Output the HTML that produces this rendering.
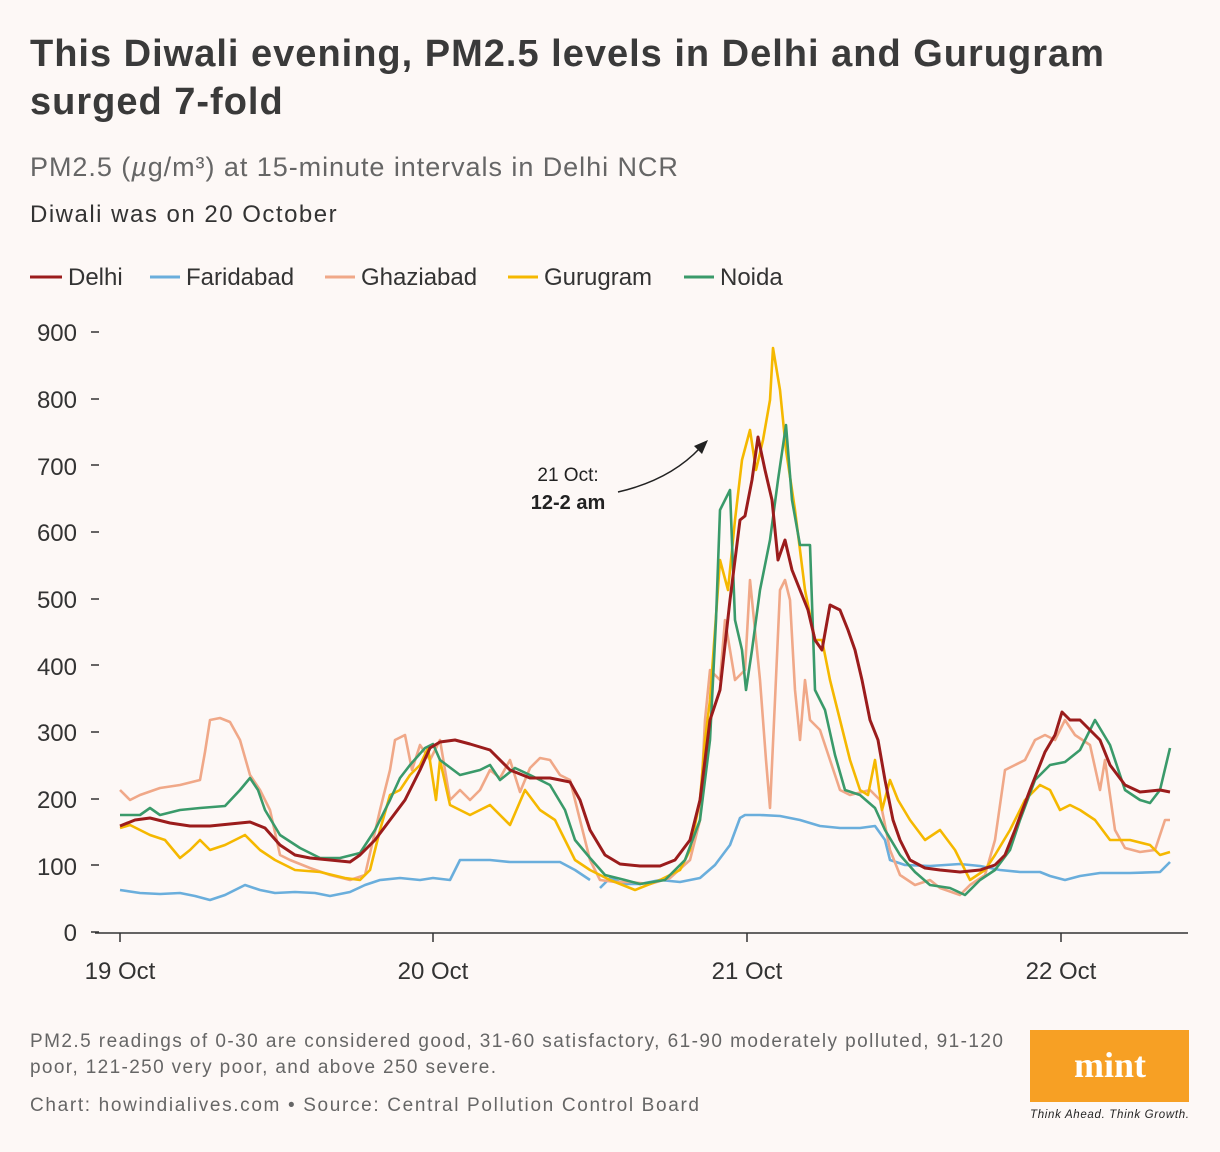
<!DOCTYPE html>
<html><head><meta charset="utf-8"><style>
body{margin:0;background:#fdf8f6;width:1220px;height:1152px;overflow:hidden;font-family:"Liberation Sans",sans-serif;color:#333;}
.t{position:absolute;left:30px;top:30px;font-size:38px;font-weight:bold;line-height:48px;color:#3a3a3a;letter-spacing:1px;}
</style></head><body>
<div class="t">This Diwali evening, PM2.5 levels in Delhi and Gurugram<br>surged 7-fold</div>
<div style="position:absolute;left:30px;top:152px;font-size:27px;color:#666;letter-spacing:0.95px;">PM2.5 (<i>µ</i>g/m³) at 15-minute intervals in Delhi NCR</div>
<div style="position:absolute;left:30px;top:201px;font-size:24px;color:#333;letter-spacing:1.5px;">Diwali was on 20 October</div>
<svg width="1220" height="1152" style="position:absolute;left:0;top:0" font-family="Liberation Sans, sans-serif">
<g font-size="24" fill="#333">
<line x1="30" y1="277" x2="62" y2="277" stroke="#9b1c1c" stroke-width="3"/><text x="68" y="285">Delhi</text>
<line x1="150" y1="277" x2="180" y2="277" stroke="#6aaedc" stroke-width="3"/><text x="186" y="285">Faridabad</text>
<line x1="325" y1="277" x2="355" y2="277" stroke="#f0a888" stroke-width="3"/><text x="361" y="285">Ghaziabad</text>
<line x1="508" y1="277" x2="538" y2="277" stroke="#f5b800" stroke-width="3"/><text x="544" y="285">Gurugram</text>
<line x1="684" y1="277" x2="714" y2="277" stroke="#3a9a6a" stroke-width="3"/><text x="720" y="285">Noida</text>
</g>
<g font-size="24" fill="#333" text-anchor="end">
<text x="77" y="341">900</text><text x="77" y="408">800</text><text x="77" y="475">700</text><text x="77" y="541">600</text><text x="77" y="608">500</text><text x="77" y="675">400</text><text x="77" y="741">300</text><text x="77" y="808">200</text><text x="77" y="875">100</text><text x="77" y="941">0</text>
</g>
<g stroke="#333" stroke-width="1.5">
<line x1="91" y1="332" x2="99" y2="332"/><line x1="91" y1="399" x2="99" y2="399"/><line x1="91" y1="465" x2="99" y2="465"/><line x1="91" y1="532" x2="99" y2="532"/><line x1="91" y1="599" x2="99" y2="599"/><line x1="91" y1="665" x2="99" y2="665"/><line x1="91" y1="732" x2="99" y2="732"/><line x1="91" y1="799" x2="99" y2="799"/><line x1="91" y1="865" x2="99" y2="865"/><line x1="91" y1="932" x2="99" y2="932"/>
<line x1="95" y1="933" x2="1188" y2="933"/>
<line x1="120" y1="933" x2="120" y2="942"/><line x1="433" y1="933" x2="433" y2="942"/><line x1="747" y1="933" x2="747" y2="942"/><line x1="1061" y1="933" x2="1061" y2="942"/>
</g>
<g font-size="24" fill="#333" text-anchor="middle">
<text x="120" y="979">19 Oct</text><text x="433" y="979">20 Oct</text><text x="747" y="979">21 Oct</text><text x="1061" y="979">22 Oct</text>
</g>
<g fill="none" stroke-width="2.6" stroke-linejoin="round">
<polyline stroke="#6aaedc" points="120,890 140,893 160,894 180,893 195,896 210,900 225,895 245,885 260,890 275,893 295,892 315,893 330,896 350,892 365,885 380,880 400,878 420,880 433,878 450,880 460,860 470,860 490,860 510,862 540,862 560,862 575,870 590,880"/>
<polyline stroke="#6aaedc" points="600,888 610,878 625,884 640,884 660,880 680,882 700,878 715,865 730,845 740,818 745,815 760,815 780,816 800,820 820,826 840,828 860,828 875,826 885,840 890,860 905,865 930,866 960,864 980,866 1000,870 1020,872 1040,872 1050,876 1065,880 1080,876 1100,873 1130,873 1160,872 1170,862"/>
<polyline stroke="#f0a888" points="120,790 130,800 140,795 160,788 180,785 200,780 205,752 210,720 220,718 230,722 240,740 250,775 260,790 270,810 280,855 290,860 310,868 330,875 350,880 365,875 380,810 390,770 395,740 405,735 412,770 420,745 430,760 440,740 450,800 460,790 470,800 480,790 490,770 500,778 510,760 520,792 530,768 540,758 550,760 560,775 570,780 580,820 590,860 600,880 615,882 630,882 650,884 670,878 690,860 700,820 705,720 710,670 720,680 725,620 735,680 745,670 750,580 760,680 766,760 770,808 775,700 780,590 785,580 790,600 795,690 800,740 805,680 810,720 820,730 830,760 840,790 850,795 870,790 880,800 890,850 900,875 915,885 930,880 940,888 960,895 970,885 985,875 995,840 1005,770 1015,765 1025,760 1035,740 1045,735 1055,740 1065,720 1075,735 1090,745 1100,790 1105,760 1115,830 1125,848 1140,852 1155,850 1165,820 1170,820"/>
<polyline stroke="#f5b800" points="120,828 130,825 150,835 165,840 180,858 190,850 200,840 210,850 225,845 235,840 245,835 260,850 275,860 295,870 320,872 345,878 360,880 370,870 380,830 390,795 400,790 410,775 420,765 428,748 436,800 440,760 450,805 470,815 490,805 510,825 525,790 540,810 555,820 565,840 575,860 590,870 610,880 635,890 660,880 680,870 690,850 700,800 705,740 710,700 720,560 728,590 735,520 742,460 750,430 756,470 763,440 770,400 773,348 780,390 786,450 795,510 805,590 815,640 822,640 830,680 840,720 850,760 860,790 868,795 875,760 882,810 890,780 898,800 910,820 925,840 940,830 955,850 970,880 985,870 995,855 1010,830 1025,800 1040,785 1050,790 1060,810 1070,805 1080,810 1095,820 1110,840 1130,840 1150,845 1160,855 1170,852"/>
<polyline stroke="#3a9a6a" points="120,815 140,815 150,808 160,815 180,810 200,808 225,806 240,790 250,778 258,790 265,810 280,835 300,848 320,858 340,858 360,853 375,830 390,800 400,778 410,765 425,748 433,744 440,760 460,775 480,770 490,765 500,780 515,768 530,775 550,785 565,810 575,840 590,858 605,875 625,880 640,884 665,880 685,860 700,820 710,740 716,620 720,510 730,490 735,620 742,650 746,690 752,650 760,590 770,540 778,480 786,425 792,500 800,545 810,545 815,690 825,710 835,755 845,790 860,795 875,808 885,830 900,855 915,872 930,885 950,888 965,895 980,880 995,870 1010,850 1020,820 1035,780 1050,765 1065,762 1080,750 1095,720 1110,745 1125,790 1140,800 1150,803 1160,790 1170,748"/>
<polyline stroke="#9b1c1c" stroke-width="3" points="120,826 135,820 150,818 170,823 190,826 210,826 230,824 250,822 265,828 280,845 295,855 310,858 330,860 350,862 360,855 375,840 390,820 405,800 420,770 430,748 440,742 455,740 470,744 490,750 510,770 530,778 550,778 570,782 580,800 590,830 605,855 620,864 640,866 660,866 675,860 690,840 700,800 710,720 720,690 730,600 740,520 745,516 752,480 758,437 765,470 772,500 778,560 785,540 792,570 800,590 808,610 815,640 822,650 830,605 840,610 848,630 855,650 862,680 870,720 878,740 885,780 893,820 900,840 910,860 925,868 940,870 960,872 980,870 995,865 1005,855 1015,830 1030,790 1045,752 1055,735 1062,712 1070,720 1080,720 1090,730 1100,740 1110,765 1125,785 1140,792 1160,790 1170,792"/>
</g>
<text x="568" y="481" font-size="19" fill="#222" text-anchor="middle">21 Oct:</text>
<text x="568" y="509" font-size="20" font-weight="bold" fill="#222" text-anchor="middle">12-2 am</text>
<path d="M618,492 Q670,480 700,448" fill="none" stroke="#222" stroke-width="1.5"/>
<polygon points="708,440 694,446 702,454" fill="#222"/>
<g font-size="19" fill="#666">
<text x="30" y="1047" textLength="973" lengthAdjust="spacing">PM2.5 readings of 0-30 are considered good, 31-60 satisfactory, 61-90 moderately polluted, 91-120</text>
<text x="30" y="1073" textLength="466" lengthAdjust="spacing">poor, 121-250 very poor, and above 250 severe.</text>
<text x="30" y="1111" textLength="669" lengthAdjust="spacing">Chart: howindialives.com • Source: Central Pollution Control Board</text>
</g>
<rect x="1030" y="1030" width="159" height="72" fill="#f7a024"/>
<text x="1110" y="1077" font-size="36" font-weight="bold" fill="#fff" text-anchor="middle" font-family="Liberation Serif, serif">mint</text>
<text x="1030" y="1118" font-size="11.5" font-style="italic" fill="#222" textLength="159">Think Ahead. Think Growth.</text>
</svg>
</body></html>
